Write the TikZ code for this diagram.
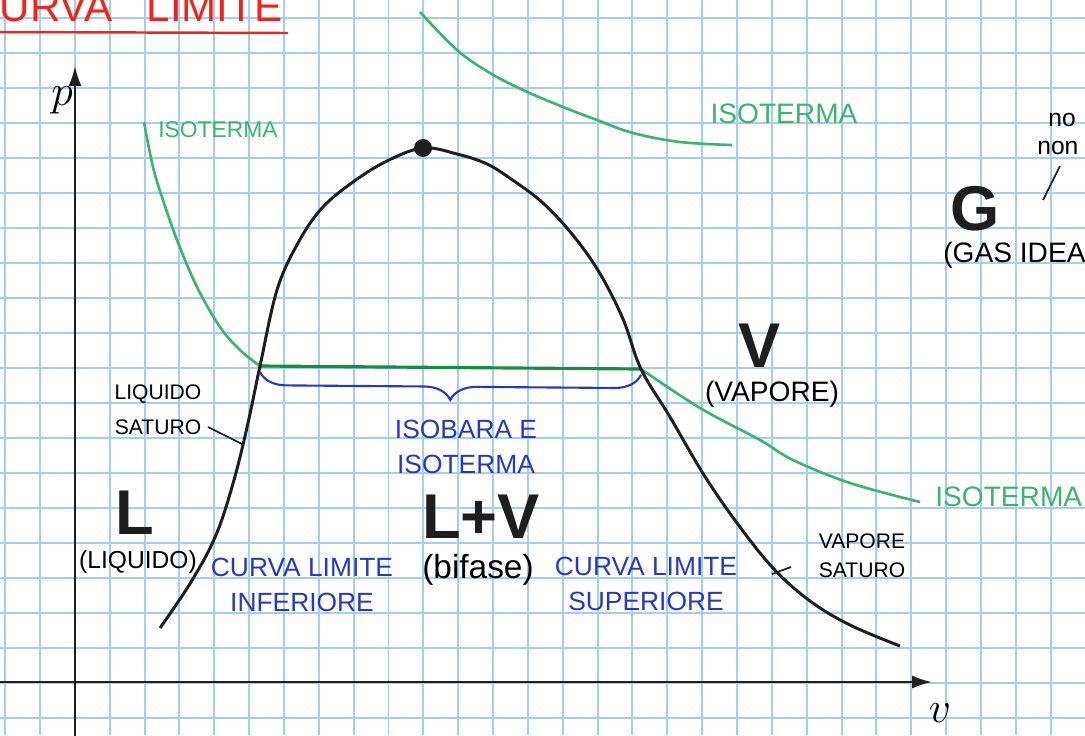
\documentclass[tikz,border=0pt]{standalone}
\usepackage{fontspec}
\setmainfont{Liberation Sans}
\usetikzlibrary{arrows.meta,decorations.pathreplacing}
\definecolor{gridblue}{RGB}{165,205,240}
\definecolor{isogreen}{RGB}{60,180,110}
\definecolor{isodark}{RGB}{25,140,65}
\definecolor{inkblue}{RGB}{35,55,205}
\definecolor{inkred}{RGB}{240,35,30}
\definecolor{ink}{RGB}{30,30,30}

\begin{document}
\begin{tikzpicture}[x=0.2mm,y=-0.2mm,
  gridline/.style={gridblue,line width=1.1pt},
  hand/.style={inner sep=0pt,align=center,font=\fontsize{15}{20}\selectfont},
  small/.style={hand,font=\fontsize{12}{20}\selectfont},
  big/.style={inner sep=0pt,font=\fontsize{36}{40}\selectfont\bfseries,text=ink},
  iso/.style={isogreen,line width=1.5pt},
  dome/.style={ink,line width=1.7pt},
  leader/.style={ink,line width=1pt}]
  \useasboundingbox (0,0) rectangle (1085,735);
  \clip (0,0) rectangle (1085,735);
  \fill[white] (0,0) rectangle (1085,735);

  % squared paper
  \foreach \k in {0,...,31}
    \draw[gridline] ({5.15+34.85*\k},0) -- ({5.15+34.85*\k},735);
  \foreach \k in {0,...,20}
    \draw[gridline] (0,{18+35*\k}) -- (1085,{18+35*\k});

  % title
  \node[anchor=base east,inner sep=0pt,text=inkred,font=\fontsize{24}{24}\selectfont] (title) at (283,21) {CURVA\hspace{0.8em}LIMITE};
  \draw[inkred,line width=1.4pt] (0,32) -- (288,33);

  % axes
  \draw[ink,line width=1.3pt,-{Latex[length=4mm,width=2.6mm]}] (75,740) -- (75,66);
  \draw[ink,line width=1.3pt,-{Latex[length=4mm,width=2.6mm]}] (0,682) -- (932,682);
  \node[inner sep=0pt,font=\fontsize{26}{26}\selectfont] (plab) at (62,100) {$p$};
  \node[inner sep=0pt,font=\fontsize{26}{26}\selectfont] (vlab) at (940,713) {$v$};

  % isotherms
  \coordinate (A) at (260,366);
  \coordinate (B) at (641,369);
  \draw[iso] plot[smooth,tension=0.6] coordinates {(144,122) (153,167) (163,200) (177,240) (197,287) (220,327) (240,350) (A)};
  \draw[isodark,line width=1.8pt] (A) -- (B);
  \draw[iso] plot[smooth,tension=0.6] coordinates {(B) (700,408) (760,440) (793,460) (850,483) (920,502)};
  \draw[iso] plot[smooth,tension=0.6] coordinates {(420,12) (457,50) (490,73) (523,90) (563,107) (597,120) (633,133) (680,142) (732,145)};
  \node[hand,text=isogreen,font=\fontsize{13}{13}\selectfont] (iso1) at (218,130) {ISOTERMA};
  \node[hand,text=isogreen,font=\fontsize{16}{16}\selectfont] (iso2) at (784,114) {ISOTERMA};
  \node[hand,text=isogreen,font=\fontsize{16}{16}\selectfont,anchor=west] (iso3) at (935,497) {ISOTERMA};

  % saturation dome
  \draw[dome] plot[smooth,tension=0.6] coordinates {(160,628) (191,582) (216,535) (234,480) (248,423) (A) (277,290) (298,243) (322,208) (353,182) (387,161) (423,148)
    (457,154) (487,164) (514,181) (543,203) (572,234) (599,272) (623,319) (B) (670,417) (704,475) (737,523) (773,568) (810,601) (850,625) (900,646)};
  \node[circle,fill=ink,inner sep=0pt,minimum size=3.6mm] (cp) at (423,148) {};

  % brace
  \draw[inkblue,line width=1.2pt,decorate,decoration={brace,mirror,amplitude=15pt}] ([yshift=-1.2mm]A) -- ([yshift=-1.2mm]B);
  \node[hand,text=inkblue] (isob) at (466,447) {ISOBARA E\\ISOTERMA};

  % regions
  \node[big] (L) at (135,513) {L};
  \node[hand,font=\fontsize{14}{14}\selectfont] (Llab) at (138,562) {(LIQUIDO)};
  \node[big] (LV) at (481,517) {L+V};
  \node[hand,font=\fontsize{19}{19}\selectfont] (LVlab) at (478,570) {(bifase)};
  \node[big] (V) at (760,346) {V};
  \node[hand,font=\fontsize{16}{16}\selectfont] (Vlab) at (772,394) {(VAPORE)};
  \node[big] (G) at (975,209) {G};
  \node[hand,font=\fontsize{16}{16}\selectfont,anchor=west] (Glab) at (943,255) {(GAS IDEA};
  \node[hand,font=\fontsize{14}{14}\selectfont,anchor=west] (no) at (1048,120) {no};
  \node[hand,font=\fontsize{14}{14}\selectfont,anchor=west] (non) at (1037,148) {non};
  \draw[leader] (1060,166) -- (1043,200);

  % limit curves
  \node[hand,text=inkblue] (inf) at (302,585) {CURVA LIMITE\\INFERIORE};
  \node[hand,text=inkblue] (sup) at (646,584) {CURVA LIMITE\\SUPERIORE};

  % saturated states
  \node[small] (liqsat) at (158,410) {LIQUIDO\\SATURO};
  \coordinate (ls1) at (208,427);
  \coordinate (ls2) at (242,444);
  \draw[leader] (ls1) -- (ls2);
  \node[hand,font=\fontsize{12}{16.5}\selectfont] (vapsat) at (862,556) {VAPORE\\SATURO};
  \coordinate (vs1) at (791,567);
  \coordinate (vs2) at (772,574);
  \draw[leader] (vs1) -- (vs2);
\end{tikzpicture}
\end{document}
